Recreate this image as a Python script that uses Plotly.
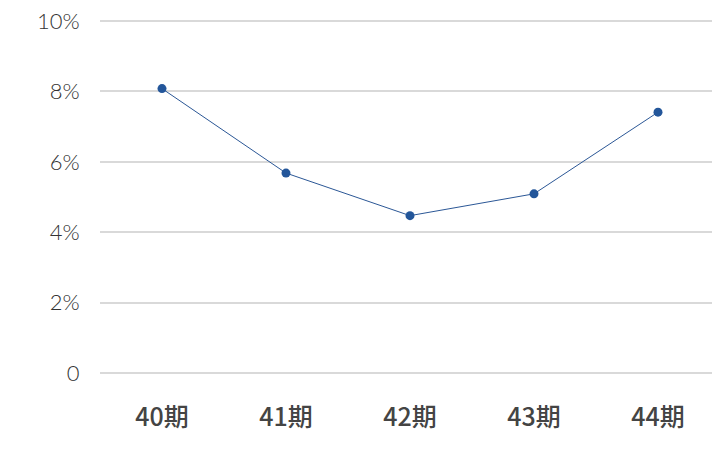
import plotly.graph_objects as go

periods = ["40期", "41期", "42期", "43期", "44期"]
rates = [8.08, 5.68, 4.47, 5.09, 7.41]
y_ticks = [0, 2, 4, 6, 8, 10]
y_labels = ["0", "2%", "4%", "6%", "8%", "10%"]

fig = go.Figure(
    go.Scatter(
        x=periods,
        y=rates,
        mode="lines+markers",
        line=dict(color="#2b5796", width=1),
        marker=dict(color="#23569a", size=9),
        cliponaxis=False,
    )
)

# page body adds ~8px offset, so margins are shifted to compensate
fig.update_layout(
    width=720,
    height=450,
    margin=dict(l=92, r=8, t=12, b=84),
    plot_bgcolor="white",
    paper_bgcolor="white",
    showlegend=False,
    xaxis=dict(
        range=[-0.5, 4.5],
        automargin=False,
        showgrid=False,
        showline=False,
        zeroline=False,
        ticks="outside",
        ticklen=21,
        tickcolor="white",
        tickfont=dict(family="Noto Sans CJK JP", size=25, color="#444444", weight=500),
    ),
    yaxis=dict(
        range=[-0.03, 10.03],
        automargin=False,
        tickvals=y_ticks,
        ticktext=y_labels,
        showgrid=True,
        gridcolor="#d9d9d9",
        gridwidth=1.5,
        zeroline=False,
        showline=False,
        ticks="outside",
        ticklen=15,
        tickcolor="white",
        ticklabeloverflow="allow",
        tickfont=dict(family="Lato", size=22, color="#333333", weight=300),
    ),
)

fig.write_html("out.html")
